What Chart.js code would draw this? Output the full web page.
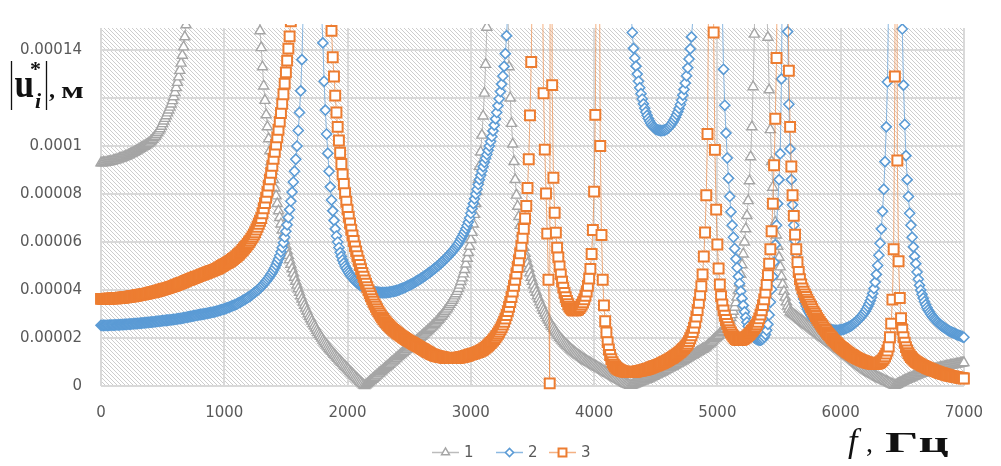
<!DOCTYPE html>
<html>
<head>
<meta charset="utf-8">
<script src="https://cdn.jsdelivr.net/npm/chart.js@4.4.1/dist/chart.umd.min.js"></script>
<style>
html,body{margin:0;padding:0;background:#ffffff;}
#wrap{width:1001px;height:466px;position:relative;}
</style>
</head>
<body>
<div id="wrap"><canvas id="c" width="1001" height="466"></canvas></div>
<script>
// ---------- DATA ----------
const frequencyHz = [
0,10,20,30,40,50,60,70,80,90,100,110,120,130,140,150,160,170,180,190,200,210,220,230,240,250,260,270,280,290,300,310,320,330,340,350,360,370,380,390,400,410,420,430,440,450,460,470,480,490,500,510,520,530,540,550,560,570,580,590,600,610,620,630,640,650,660,670,680,690,
700,710,720,730,740,750,760,770,780,790,800,810,820,830,840,850,860,870,880,890,900,910,920,930,940,950,960,970,980,990,1000,1010,1020,1030,1040,1050,1060,1070,1080,1090,1100,1110,1120,1130,1140,1150,1160,1170,1180,1190,1200,1210,1220,1230,1240,1250,1260,1270,1280,1290,1300,1310,1320,1330,1340,1350,1360,1370,1380,1390,
1400,1410,1420,1430,1440,1450,1460,1470,1480,1490,1500,1510,1520,1530,1540,1550,1560,1570,1580,1590,1600,1610,1620,1630,1640,1650,1660,1670,1680,1690,1700,1710,1720,1730,1740,1750,1760,1770,1780,1790,1800,1810,1820,1830,1840,1850,1860,1870,1880,1890,1900,1910,1920,1930,1940,1950,1960,1970,1980,1990,2000,2010,2020,2030,2040,2050,2060,2070,2080,2090,
2100,2110,2120,2130,2140,2150,2160,2170,2180,2190,2200,2210,2220,2230,2240,2250,2260,2270,2280,2290,2300,2310,2320,2330,2340,2350,2360,2370,2380,2390,2400,2410,2420,2430,2440,2450,2460,2470,2480,2490,2500,2510,2520,2530,2540,2550,2560,2570,2580,2590,2600,2610,2620,2630,2640,2650,2660,2670,2680,2690,2700,2710,2720,2730,2740,2750,2760,2770,2780,2790,
2800,2810,2820,2830,2840,2850,2860,2870,2880,2890,2900,2910,2920,2930,2940,2950,2960,2970,2980,2990,3000,3010,3020,3030,3040,3050,3060,3070,3080,3090,3100,3110,3120,3130,3140,3150,3160,3170,3180,3190,3200,3210,3220,3230,3240,3250,3260,3270,3280,3290,3300,3310,3320,3330,3340,3350,3360,3370,3380,3390,3400,3410,3420,3430,3440,3450,3460,3470,3480,3490,
3500,3510,3520,3530,3540,3550,3560,3570,3580,3590,3600,3610,3620,3630,3640,3650,3660,3670,3680,3690,3700,3710,3720,3730,3740,3750,3760,3770,3780,3790,3800,3810,3820,3830,3840,3850,3860,3870,3880,3890,3900,3910,3920,3930,3940,3950,3960,3970,3980,3990,4000,4010,4020,4030,4040,4050,4060,4070,4080,4090,4100,4110,4120,4130,4140,4150,4160,4170,4180,4190,
4200,4210,4220,4230,4240,4250,4260,4270,4280,4290,4300,4310,4320,4330,4340,4350,4360,4370,4380,4390,4400,4410,4420,4430,4440,4450,4460,4470,4480,4490,4500,4510,4520,4530,4540,4550,4560,4570,4580,4590,4600,4610,4620,4630,4640,4650,4660,4670,4680,4690,4700,4710,4720,4730,4740,4750,4760,4770,4780,4790,4800,4810,4820,4830,4840,4850,4860,4870,4880,4890,
4900,4910,4920,4930,4940,4950,4960,4970,4980,4990,5000,5010,5020,5030,5040,5050,5060,5070,5080,5090,5100,5110,5120,5130,5140,5150,5160,5170,5180,5190,5200,5210,5220,5230,5240,5250,5260,5270,5280,5290,5300,5310,5320,5330,5340,5350,5360,5370,5380,5390,5400,5410,5420,5430,5440,5450,5460,5470,5480,5490,5500,5510,5520,5530,5540,5550,5560,5570,5580,5590,
5600,5610,5620,5630,5640,5650,5660,5670,5680,5690,5700,5710,5720,5730,5740,5750,5760,5770,5780,5790,5800,5810,5820,5830,5840,5850,5860,5870,5880,5890,5900,5910,5920,5930,5940,5950,5960,5970,5980,5990,6000,6010,6020,6030,6040,6050,6060,6070,6080,6090,6100,6110,6120,6130,6140,6150,6160,6170,6180,6190,6200,6210,6220,6230,6240,6250,6260,6270,6280,6290,
6300,6310,6320,6330,6340,6350,6360,6370,6380,6390,6400,6410,6420,6430,6440,6450,6460,6470,6480,6490,6500,6510,6520,6530,6540,6550,6560,6570,6580,6590,6600,6610,6620,6630,6640,6650,6660,6670,6680,6690,6700,6710,6720,6730,6740,6750,6760,6770,6780,6790,6800,6810,6820,6830,6840,6850,6860,6870,6880,6890,6900,6910,6920,6930,6940,6950,6960,6970,6980,6990,
7000];

// amplitudes |u_i*| in micrometres (values above ~149 lie beyond the top of the plot)
const series1Um = [
93.0,93.0,93.1,93.1,93.2,93.3,93.4,93.5,93.6,93.7,93.9,94.0,94.2,94.3,94.5,94.7,94.9,95.1,95.3,95.5,95.7,95.9,96.2,96.4,96.7,96.9,97.2,97.5,97.8,98.1,98.4,98.7,99.0,99.3,99.6,99.9,100.2,100.5,100.9,101.2,101.7,102.2,102.8,103.4,104.0,104.7,105.5,106.3,107.2,108.2,109.3,110.4,111.5,112.6,113.8,115.0,116.2,117.5,118.9,120.5,122.3,124.3,126.5,128.8,131.5,134.5,137.8,141.3,145.5,150.5,
157,166,177,191,209,232,262,300,350,410,470,520,540,530,505,475,445,418,393,371,352,335,320,307,296,286,277,269,262,256,251,247,243,240,238,236,235,235,235,236,238,241,245,250,257,266,278,295,320,355,405,470,520,480,390,310,250,205,172,148,141,133,125,119,113,108,103,98,93.5,89.5,
86,82.5,79.2,76,73,70.2,67.5,65,62.6,60.4,58.3,56.3,54.4,52.6,50.7,48.8,47,45.3,43.6,42,40.5,39,37.6,36.2,34.9,33.6,32.4,31.2,30.1,29,28,27,26,25,24.1,23.2,22.3,21.5,20.7,19.9,19.1,18.4,17.7,17,16.3,15.6,15,14.4,13.8,13.2,12.6,12,11.5,10.9,10.4,9.8,9.3,8.7,8.2,7.6,7.1,6.6,6,5.5,5,4.5,3.9,3.4,2.9,2.4,
1.9,1.4,0.9,0.4,0.1,0.5,0.9,1.4,1.8,2.3,2.7,3.2,3.6,4.1,4.5,5,5.4,5.9,6.3,6.8,7.2,7.7,8.1,8.6,9,9.5,9.9,10.4,10.8,11.3,11.7,12.2,12.6,13.1,13.5,14,14.4,14.9,15.3,15.8,16.2,16.7,17.1,17.6,18,18.5,18.9,19.4,19.8,20.3,20.7,21.2,21.6,22.1,22.5,23,23.5,24,24.5,25,25.5,26,26.6,27.2,27.8,28.4,29,29.6,30.3,31,
31.7,32.4,33.2,34,34.8,35.7,36.6,37.5,38.4,39.4,40.6,42,43.5,45,46.7,48.5,50.8,53.2,55.6,58.2,61,64,67.5,71.5,76,81,86,91.5,97.5,104.5,112.5,122,134,149.5,172,205,255,340,480,700,900,760,560,430,350,295,255,225,200,180,160,133,120,109.4,100.8,93.5,86,79.5,74.9,70.6,66.9,63.5,60.5,57.8,55.3,53,51,49,47.1,45.3,
43.6,42,40.4,39,37.6,36.3,35,33.8,32.6,31.5,30.4,29.4,28.4,27.4,26.5,25.6,24.8,24,23.2,22.4,21.7,21,20.3,19.7,19.1,18.5,17.9,17.4,16.9,16.4,15.9,15.4,14.9,14.5,14.1,13.7,13.3,12.9,12.5,12.1,11.8,11.4,11.1,10.7,10.4,10.1,9.8,9.5,9.2,8.9,8.6,8.3,8,7.7,7.4,7.1,6.8,6.5,6.2,5.9,5.6,5.3,5,4.7,4.4,4.1,3.8,3.5,3.2,2.9,
2.6,2.3,2,1.7,1.4,1.1,0.9,0.7,0.5,0.3,0.2,0.4,0.6,0.8,1,1.2,1.4,1.6,1.8,2,2.2,2.4,2.6,2.8,3,3.3,3.5,3.8,4,4.3,4.5,4.8,5,5.3,5.5,5.8,6,6.3,6.6,6.9,7.1,7.4,7.7,8,8.2,8.5,8.8,9.1,9.4,9.6,9.9,10.2,10.5,10.8,11.1,11.4,11.7,12,12.3,12.6,12.9,13.2,13.5,13.8,14.1,14.4,14.7,15,15.3,15.6,
15.9,16.3,16.8,17.2,17.7,18.2,18.7,19.2,19.7,20.1,20.6,21.1,21.7,22.2,22.8,23.4,24,24.7,25.5,26.4,27.4,28.5,29.7,31.1,32.8,34.7,37,39.7,42.9,46.5,50.5,55,60,65.5,71,77.2,85.5,95.5,108,124.7,146.6,185,260,420,800,1000,640,380,260,195,158,145.3,123.4,106.8,93.5,82.8,74.9,68.2,62.9,58.2,53.6,49.6,45.6,42.3,39.4,37,35,33.3,32,30.9,
30.5,30.1,29.7,29.3,28.9,28.5,28.1,27.7,27.3,26.9,26.5,26.1,25.7,25.3,24.9,24.5,24.1,23.7,23.3,22.9,22.5,22.1,21.7,21.3,20.9,20.5,20.2,19.8,19.4,19,18.6,18.2,17.8,17.4,17,16.6,16.2,15.8,15.4,15,14.6,14.2,13.8,13.4,13,12.6,12.2,11.8,11.4,11,10.6,10.2,9.8,9.4,9,8.6,8.2,7.8,7.4,7,6.6,6.3,6,5.7,5.4,5.1,4.8,4.5,4.2,3.9,
3.6,3.4,3.1,2.9,2.6,2.4,2.1,1.9,1.7,1.4,1.2,0.9,0.7,0.4,0.2,0.5,0.7,1,1.3,1.5,1.8,2,2.3,2.5,2.8,3,3.2,3.4,3.7,3.9,4.1,4.3,4.5,4.7,4.9,5.1,5.3,5.5,5.6,5.8,6,6.2,6.3,6.5,6.6,6.8,6.9,7.1,7.2,7.4,7.5,7.6,7.7,7.9,8,8.1,8.2,8.4,8.5,8.6,8.7,8.8,8.9,9,9.1,9.2,9.3,9.4,9.5,9.6,
9.7];

const series2Um = [
25.3,25.3,25.3,25.3,25.3,25.3,25.3,25.4,25.4,25.4,25.4,25.4,25.5,25.5,25.5,25.5,25.6,25.6,25.6,25.7,25.7,25.7,25.8,25.8,25.8,25.9,25.9,26,26,26,26.1,26.1,26.2,26.2,26.3,26.3,26.4,26.4,26.5,26.5,26.6,26.6,26.7,26.7,26.8,26.9,26.9,27,27,27.1,27.2,27.2,27.3,27.4,27.4,27.5,27.6,27.6,27.7,27.8,27.8,27.9,28,28.1,28.1,28.2,28.3,28.4,28.5,28.6,
28.7,28.8,28.9,29,29.1,29.2,29.3,29.4,29.5,29.6,29.7,29.8,29.9,30,30.1,30.2,30.3,30.4,30.5,30.6,30.7,30.8,30.9,31,31.2,31.3,31.5,31.6,31.8,31.9,32.1,32.3,32.5,32.7,32.9,33.1,33.3,33.5,33.7,33.9,34.1,34.4,34.7,35,35.3,35.6,35.9,36.2,36.5,36.8,37.1,37.5,37.9,38.3,38.7,39.1,39.5,39.9,40.4,40.9,41.4,41.9,42.5,43.1,43.7,44.4,45.1,45.8,46.6,47.4,
48.3,49.3,50.4,51.6,52.9,54.3,55.9,57.7,59.7,62,64.5,67.2,70.2,73.5,77,80.8,85,89.5,94.5,100,106.5,114,123,136,156,185,225,280,360,480,650,820,700,520,390,300,240,200,172,155,143,127,115,105,97,89.5,83,77.5,73,69,65.5,62.5,60,57.7,55.7,54,52.5,51.2,50,49,48,47.2,46.4,45.7,45,44.4,43.9,43.4,42.9,42.5,
42.1,41.7,41.4,41.1,40.8,40.5,40.3,40.1,39.9,39.7,39.6,39.4,39.3,39.2,39.1,39,39,38.9,38.9,38.9,38.9,38.9,39,39,39.1,39.2,39.3,39.4,39.5,39.6,39.8,40,40.2,40.4,40.6,40.8,41,41.2,41.5,41.7,42,42.2,42.5,42.8,43.1,43.4,43.7,44,44.3,44.6,45,45.3,45.7,46,46.4,46.7,47.1,47.5,47.9,48.3,48.7,49.1,49.5,50,50.4,50.9,51.3,51.8,52.3,52.8,
53.3,53.8,54.4,54.9,55.5,56.1,56.7,57.3,58,58.7,59.4,60.3,61.3,62.3,63.3,64.4,65.6,66.9,68.3,70,72,74,76,78,80,82,84,86,87.8,89.6,91.4,93.2,94.9,96.5,98.2,100,101.9,104,106.3,108.7,111.3,114,116.8,119.7,122.7,125.8,129.2,133.2,138.5,146,158,178,210,260,350,520,800,1100,900,640,480,390,335,300,276,258,245,235,227,221,
216,212,208,205,202,200,198,196,194,193,192,191,190,189,189,188,188,188,188,188,188,189,189,190,191,192,193,194,196,198,200,202,204,207,210,213,217,221,226,231,237,243,250,258,267,277,289,303,319,338,360,385,413,445,482,524,570,620,680,760,860,1000,1200,1450,1650,1500,1250,1000,790,630,
510,420,355,305,266,236,212,193,178,166,156,147.3,140.7,136.7,133.3,130,127,124.3,121.8,119.6,117.6,115.8,114.2,112.8,111.5,110.4,109.5,108.7,108,107.5,107.1,106.8,106.6,106.5,106.4,106.4,106.5,106.6,106.8,107.1,107.5,108,108.6,109.3,110.1,111,112,113.1,114.3,115.7,117.3,119.1,121.2,123.6,126.3,129.3,132.6,136.3,140.5,145.5,152,162,176,196,225,270,340,460,680,1000,
1600,1400,1100,850,660,530,440,375,330,295,265,230,200,177,158,132,117,105.4,95,86.6,79,72.6,67,62,57.3,53,49.3,45.6,42.7,39.5,36.5,33.6,30.9,28.6,26.6,24.9,23.5,22.3,21.4,20.7,20.1,19.7,19.4,19.2,19.1,19.1,19.3,19.7,20.4,21.5,23.2,25.7,29.6,35,40.3,45.6,51.6,58.9,67,76,86,96.8,128,190,400,600,260,147.7,117.4,98.8,
86,75.5,67,60.5,55,50.5,46.8,43.5,40.7,38.3,36.3,34.7,33.3,32.1,31.1,30.2,29.4,28.7,28.1,27.5,27,26.5,26.1,25.7,25.3,25,24.7,24.4,24.2,24,23.8,23.6,23.5,23.4,23.3,23.2,23.2,23.2,23.2,23.3,23.4,23.5,23.6,23.8,24,24.2,24.4,24.7,25,25.3,25.7,26.1,26.5,27,27.5,28,28.5,29.1,29.7,30.4,31.2,32.1,33.1,34.2,35.5,36.9,38.6,40.6,43.3,46.5,
50.2,54.5,59.5,65.5,72.8,82,93.5,108,126.7,165,220,320,520,900,1300,1000,600,350,230,175,148.8,125.4,109,96,86,79,72,67,62,58,54,51,47.5,44.5,42,40,38.2,36.6,35.2,33.9,32.7,31.7,30.8,30,29.3,28.6,28,27.4,26.9,26.4,25.9,25.5,25.1,24.7,24.3,24,23.6,23.3,23,22.7,22.5,22.2,22,21.7,21.5,21.3,21.1,20.9,20.7,20.5,
20.3];

const series3Um = [
36.3,36.3,36.3,36.3,36.3,36.4,36.4,36.4,36.4,36.5,36.5,36.5,36.6,36.6,36.7,36.7,36.8,36.8,36.9,36.9,37,37.1,37.1,37.2,37.3,37.4,37.4,37.5,37.6,37.7,37.8,37.9,38,38.1,38.2,38.3,38.4,38.5,38.6,38.7,38.9,39,39.1,39.2,39.4,39.5,39.6,39.8,39.9,40.1,40.2,40.4,40.5,40.7,40.8,41,41.2,41.3,41.5,41.7,41.9,42.1,42.3,42.5,42.7,42.9,43.1,43.3,43.5,43.8,
44,44.2,44.4,44.6,44.8,45,45.2,45.4,45.6,45.8,46,46.2,46.4,46.6,46.8,47,47.2,47.4,47.6,47.8,48,48.2,48.4,48.6,48.8,49.1,49.4,49.7,50,50.3,50.6,50.9,51.2,51.5,51.8,52.1,52.5,52.9,53.3,53.7,54.1,54.6,55.1,55.6,56.1,56.7,57.3,57.9,58.5,59.2,59.9,60.6,61.4,62.2,63.1,64.1,65.2,66.4,67.6,68.8,70,72,74.1,76.2,78.5,80.9,83.5,86.1,88.9,91.8,
94.7,97.6,100.6,103.6,106.8,110.2,113.8,117.6,121.6,126,130.7,135.6,140.6,145.7,152,162,175,192,215,247,292,360,470,650,900,1200,1400,1250,1000,830,710,620,560,510,470,420,380,345,315,287,262,240,221,204,189,175,161,148,137,129,121,114,108,102.3,97.2,92.5,88.2,84.2,80.4,76.8,73.5,70.5,67.7,65.1,62.7,60.4,58.2,56.1,54.1,52.2,
50.4,48.7,47.1,45.5,44,42.6,41.2,39.9,38.6,37.4,36.2,35.1,34,33,32,31.1,30.2,29.4,28.6,27.9,27.2,26.6,26,25.4,24.9,24.4,23.9,23.4,23,22.6,22.2,21.8,21.4,21,20.7,20.3,20,19.6,19.3,19,18.7,18.4,18.1,17.8,17.5,17.2,16.9,16.6,16.3,16,15.7,15.4,15.1,14.8,14.5,14.2,13.9,13.6,13.3,13.1,12.9,12.7,12.5,12.4,12.3,12.2,12.1,12,11.9,11.8,
11.7,11.7,11.6,11.6,11.6,11.6,11.6,11.7,11.7,11.8,11.8,11.9,12,12.1,12.2,12.3,12.5,12.6,12.8,13,13.2,13.3,13.5,13.6,13.8,14,14.2,14.4,14.7,14.9,15.2,15.6,16,16.4,16.9,17.4,17.9,18.4,19,19.6,20.3,21,21.8,22.6,23.5,24.5,25.6,26.8,28.1,29.6,31.2,33,35,37.1,39.4,41.8,44.3,46.9,49.6,52.4,55.3,58.4,61.8,65.5,69.8,75,82.5,94.5,112.8,135,
175,250,400,700,900,650,400,260,180,122,98.5,80.2,63.5,44.3,1.1,500,125.4,86.8,72.2,63.9,57.6,53.6,49.8,46.5,43.5,41,38.8,37,35.4,34.1,33.1,32.4,31.9,31.6,31.5,31.5,31.7,32,32.5,33.1,33.9,34.9,36.1,37.6,39.4,41.8,44.8,48.8,55,65,81,113,200,500,220,100,62.9,44.3,33.6,27,22.3,18.3,15.2,12.9,11.2,9.9,8.9,8.2,7.6,7.2,
6.9,6.6,6.4,6.2,6.1,6,5.9,5.9,5.8,5.8,5.8,5.8,5.9,5.9,6,6.1,6.2,6.3,6.4,6.5,6.6,6.8,6.9,7.1,7.2,7.4,7.6,7.8,8,8.2,8.4,8.6,8.8,9,9.2,9.5,9.7,10,10.2,10.5,10.8,11.1,11.4,11.7,12,12.4,12.7,13.1,13.5,13.9,14.3,14.8,15.3,15.8,16.4,17,17.7,18.7,19.9,21.1,22.5,24.3,26.4,28.9,31.7,34.7,38,41.6,46.5,54,
64,79.5,105,170,400,1100,300,147.3,98.4,73.5,59,49,42.3,37.4,34,31.5,29.3,27.5,25.9,24.5,23.3,22.3,21.4,20.7,20.1,19.6,19.3,19.1,19.1,19.2,19.4,19.6,19.9,20.3,20.7,21.2,21.7,22.3,22.9,23.5,24.2,24.9,25.7,26.8,28.2,29.8,31.6,33.7,36.1,38.9,42.2,46.2,51,57,64.5,76,92,111.4,136.7,200,320,600,1200,900,500,320,230,175,131.4,108,
91.5,79.5,70.9,63.1,57,51.6,47.5,44.5,42.3,40.7,39.3,38.2,37.1,36,35,34,33,32,31,30.1,29.2,28.3,27.5,26.7,25.9,25.1,24.4,23.7,23,22.3,21.7,21.1,20.5,19.9,19.3,18.8,18.3,17.8,17.3,16.8,16.3,15.9,15.5,15.1,14.7,14.3,13.9,13.6,13.2,12.9,12.6,12.3,12,11.7,11.4,11.2,10.9,10.7,10.5,10.3,10.1,9.9,9.8,9.6,9.5,9.4,9.3,9.3,9.3,9.3,
9.4,9.6,9.9,10.3,10.8,11.5,12.4,13.5,14.8,16.4,20.3,26,36,57,129,400,94,52,36.7,28.3,23.5,20.3,18,16.2,14.8,13.7,12.8,12.1,11.5,11,10.5,10.1,9.8,9.5,9.2,8.9,8.6,8.4,8.1,7.9,7.6,7.4,7.2,7,6.8,6.6,6.4,6.2,6,5.8,5.6,5.4,5.3,5.1,5,4.8,4.7,4.5,4.4,4.2,4.1,4,3.9,3.8,3.7,3.6,3.5,3.4,3.3,3.2,
3.1];

const seriesNames = ['1', '2', '3'];
const yTickValues = [0, 0.00002, 0.00004, 0.00006, 0.00008, 0.0001, 0.00012, 0.00014];
// the 0.00012 label is covered by the axis title in the original
const yTickLabels = ['0', '0.00002', '0.00004', '0.00006', '0.00008', '0.0001', '', '0.00014'];
const xTickValues = [0, 1000, 2000, 3000, 4000, 5000, 6000, 7000];
const xTickLabels = ['0', '1000', '2000', '3000', '4000', '5000', '6000', '7000'];
const MICROMETRE_TO_METRE = 1e-6;

// ---------- STYLE ----------
const colours = ['#A5A5A5', '#5B9BD5', '#ED7D31'];
const lineColours = ['rgba(165,165,165,0.75)', 'rgba(91,155,213,0.7)', 'rgba(237,125,49,0.6)'];
const markerStyles = ['triangle', 'rectRot', 'rect'];
const markerRadius = [5.8, 5, 7];
const markerBorder = [1.4, 1.6, 2];

function toPoints(values) {
  return frequencyHz.map((f, i) => ({ x: f, y: values[i] * MICROMETRE_TO_METRE }));
}
const allSeries = [series1Um, series2Um, series3Um];

const datasets = allSeries.map((vals, k) => ({
  label: seriesNames[k],
  data: toPoints(vals),
  borderColor: lineColours[k],
  borderWidth: 1,
  tension: 0,
  pointStyle: markerStyles[k],
  pointRadius: markerRadius[k],
  pointHoverRadius: markerRadius[k],
  pointBorderColor: colours[k],
  pointBackgroundColor: '#FFFFFF',
  pointBorderWidth: markerBorder[k],
  order: 3 - k,
  clip: { left: 10, right: 10, top: 4, bottom: 10 }
}));

const plotBackground = {
  id: 'plotBackground',
  beforeDraw(chart) {
    const { ctx, chartArea: a } = chart;
    ctx.save();
    ctx.fillStyle = '#FFFFFF';
    ctx.fillRect(0, 0, chart.width, chart.height);
    const pc = document.createElement('canvas');
    pc.width = 4; pc.height = 4;
    const p = pc.getContext('2d');
    p.fillStyle = '#FFFFFF'; p.fillRect(0, 0, 4, 4);
    p.fillStyle = '#CDCDCD';
    for (let k = 0; k < 4; k++) p.fillRect(k, k, 1, 1);
    ctx.fillStyle = ctx.createPattern(pc, 'repeat');
    ctx.fillRect(a.left, a.top, a.right - a.left, a.bottom - a.top);
    ctx.restore();
  }
};

const annotations = {
  id: 'annotations',
  afterDraw(chart) {
    const ctx = chart.ctx;
    ctx.save();
    // y-axis title |u_i*|, м
    ctx.fillStyle = '#111'; ctx.strokeStyle = '#111';
    ctx.lineWidth = 1.3;
    ctx.beginPath();
    ctx.moveTo(11.5, 61); ctx.lineTo(11.5, 110);
    ctx.moveTo(46.5, 61); ctx.lineTo(46.5, 110);
    ctx.stroke();
    ctx.textBaseline = 'alphabetic'; ctx.textAlign = 'left';
    ctx.save(); ctx.translate(14.5, 97); ctx.scale(0.88, 1);
    ctx.font = 'bold 40px "Liberation Serif"'; ctx.fillText('u', 0, 0); ctx.restore();
    ctx.font = 'bold 22px "Liberation Serif"'; ctx.fillText('*', 30, 76);
    ctx.font = 'italic bold 22px "Liberation Serif"'; ctx.fillText('i', 35, 108);
    ctx.font = 'bold 24px "Liberation Serif"'; ctx.fillText(',', 49, 97);
    ctx.save(); ctx.translate(61, 98); ctx.scale(1.4, 1);
    ctx.font = 'bold 24px "Liberation Serif"'; ctx.fillText('м', 0, 0); ctx.restore();

    // x-axis title f , Гц
    ctx.font = 'italic 34px "Liberation Serif"'; ctx.fillText('f', 848, 452);
    ctx.font = '28px "Liberation Serif"'; ctx.fillText(',', 866, 452);
    ctx.save(); ctx.translate(885, 452); ctx.scale(1.75, 1);
    ctx.font = 'bold 30px "Liberation Serif"'; ctx.fillText('Гц', 0, 0); ctx.restore();

    // legend
    const legendX = [432, 496, 549];
    const ly = 452;
    ctx.font = '15px "DejaVu Sans"'; ctx.textBaseline = 'middle';
    for (let k = 0; k < 3; k++) {
      const x0 = legendX[k];
      ctx.strokeStyle = lineColours[k]; ctx.lineWidth = 1.5;
      ctx.beginPath(); ctx.moveTo(x0, ly + 0.5); ctx.lineTo(x0 + 27, ly + 0.5); ctx.stroke();
      ctx.strokeStyle = colours[k]; ctx.fillStyle = '#FFFFFF'; ctx.lineWidth = markerBorder[k];
      Chart.helpers.drawPoint(ctx, { pointStyle: markerStyles[k], radius: markerRadius[k] * 0.8, borderWidth: markerBorder[k], rotation: 0 }, x0 + 13.5, ly + 0.5);
      ctx.fillStyle = '#595959';
      ctx.fillText(seriesNames[k], x0 + 32, ly + 1);
    }
    ctx.restore();
  }
};

const tickFont = { family: '"DejaVu Sans"', size: 15 };

new Chart(document.getElementById('c'), {
  type: 'line',
  data: { datasets },
  options: {
    responsive: false,
    animation: false,
    devicePixelRatio: 1,
    layout: { padding: { left: 0, top: 12, right: 23, bottom: 0 } },
    plugins: { legend: { display: false }, tooltip: { enabled: false } },
    events: [],
    scales: {
      x: {
        type: 'linear', min: 0, max: 7000,
        afterBuildTicks: (s) => { s.ticks = xTickValues.map(v => ({ value: v })); },
        afterFit: (s) => { s.height = 80; },
        grid: { color: '#D9D9D9', lineWidth: 2, drawTicks: false },
        border: { display: false },
        ticks: { padding: 18, color: '#595959', font: tickFont, maxRotation: 0, autoSkip: false,
                 callback: (v) => { const i = xTickValues.indexOf(v); return i >= 0 ? xTickLabels[i] : ''; } }
      },
      y: {
        type: 'linear', min: 0, max: 0.0001492,
        afterBuildTicks: (s) => { s.ticks = yTickValues.map(v => ({ value: v })); },
        afterFit: (s) => { s.width = 101; },
        grid: { color: '#D9D9D9', lineWidth: 2, drawTicks: false },
        border: { display: false },
        ticks: { padding: 19, color: '#595959', font: tickFont, autoSkip: false,
                 callback: (v) => { const i = yTickValues.indexOf(v); return i >= 0 ? yTickLabels[i] : ''; } }
      }
    }
  },
  plugins: [plotBackground, annotations]
});
</script>
</body>
</html>
